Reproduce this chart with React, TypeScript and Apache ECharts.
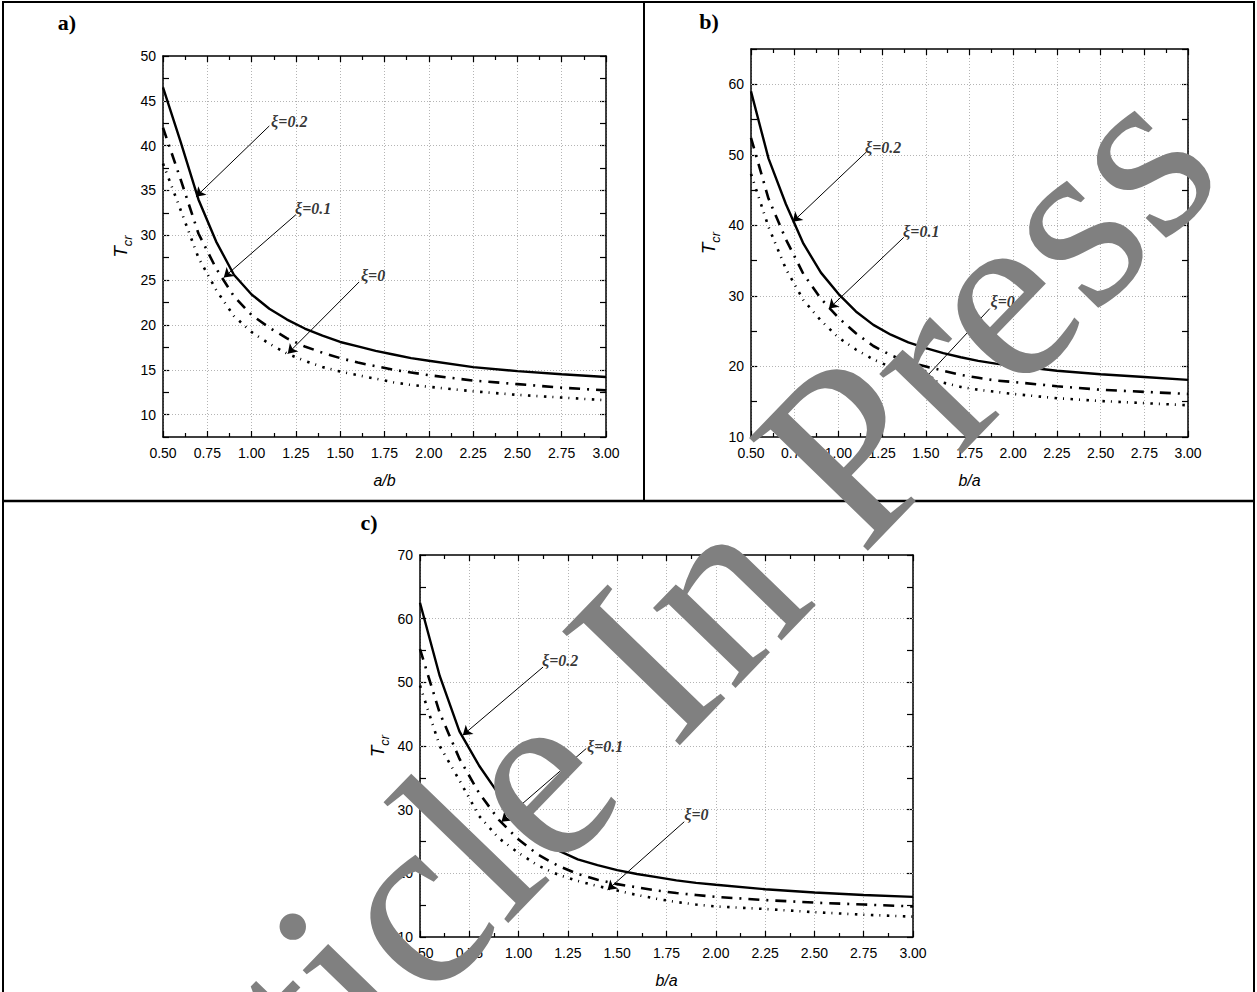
import React, { useEffect, useRef } from 'react';
import * as echarts from 'echarts';

// ---------- data ----------
const X_VALUES = [0.5, 0.6, 0.7, 0.8, 0.9, 1.0, 1.1, 1.2, 1.3, 1.4, 1.5, 1.6, 1.7, 1.8, 1.9, 2.0, 2.25, 2.5, 2.75, 3.0];

const A_XI02 = [46.5, 40.4, 34.0, 29.3, 25.6, 23.4, 21.8, 20.6, 19.6, 18.8, 18.1, 17.6, 17.1, 16.7, 16.3, 16.0, 15.3, 14.85, 14.5, 14.2];
const A_XI01 = [42.0, 36.2, 30.2, 26.3, 23.2, 21.1, 19.7, 18.5, 17.6, 16.9, 16.3, 15.8, 15.4, 15.0, 14.7, 14.4, 13.8, 13.4, 13.0, 12.7];
const A_XI00 = [38.0, 32.8, 27.5, 23.9, 21.0, 19.2, 17.9, 16.8, 16.0, 15.3, 14.8, 14.4, 14.0, 13.6, 13.3, 13.1, 12.6, 12.2, 11.9, 11.6];

const B_XI02 = [59.0, 49.5, 43.0, 37.4, 33.3, 30.3, 27.8, 25.9, 24.5, 23.4, 22.6, 21.9, 21.3, 20.8, 20.4, 20.1, 19.4, 18.9, 18.5, 18.1];
const B_XI01 = [52.4, 43.8, 38.0, 33.1, 29.6, 26.9, 24.7, 22.9, 21.6, 20.6, 20.0, 19.4, 18.8, 18.4, 18.0, 17.8, 17.2, 16.7, 16.4, 16.1];
const B_XI00 = [47.3, 39.8, 33.8, 29.4, 26.5, 24.1, 22.4, 21.0, 19.9, 19.0, 18.2, 17.7, 17.1, 16.7, 16.4, 16.1, 15.5, 15.1, 14.8, 14.5];

const C_XI02 = [62.5, 51.0, 42.3, 36.9, 32.4, 28.8, 26.0, 23.6, 22.2, 21.3, 20.5, 19.9, 19.4, 18.9, 18.5, 18.2, 17.5, 17.0, 16.6, 16.3];
const C_XI01 = [55.2, 45.2, 38.0, 32.6, 28.4, 25.3, 22.9, 21.2, 19.9, 19.0, 18.3, 17.8, 17.3, 16.9, 16.6, 16.3, 15.8, 15.4, 15.1, 14.8];
const C_XI00 = [49.5, 40.0, 34.6, 29.0, 25.5, 23.2, 21.2, 19.8, 18.8, 18.0, 17.3, 16.6, 16.0, 15.5, 15.1, 14.8, 14.4, 13.9, 13.5, 13.2];

const X_TICKS = { min: 0.5, max: 3.0, step: 0.25 };
const A_Y = { min: 7.5, max: 50, step: 2.5, major: 5 };
const B_Y = { min: 10, max: 65, step: 5, major: 10 };
const C_Y = { min: 10, max: 70, step: 5, major: 10 };
const A_Y_GRID = [10, 15, 20, 25, 30, 35, 40, 45];
const B_Y_GRID = [20, 30, 40, 50, 60];
const C_Y_GRID = [20, 30, 40, 50, 60];

const NOTE_TEXTS = ['ξ=0.2', 'ξ=0.1', 'ξ=0'];
// annotation anchors (data coords): text left-middle, arrow start, arrow tip
const A_NOTES = [[1.11, 42.7], [1.245, 33.0], [1.617, 25.5]];
const A_ARROWS = [[[1.10, 42.2], [0.686, 34.3]], [[1.25, 32.3], [0.843, 25.3]], [[1.607, 24.8], [1.204, 16.8]]];
const B_NOTES = [[1.152, 51.1], [1.37, 39.1], [1.87, 29.2]];
const B_ARROWS = [[[1.16, 50.4], [0.739, 40.5]], [[1.374, 38.3], [0.946, 28.2]], [[1.866, 28.2], [1.487, 18.1]]];
const C_NOTES = [[1.119, 53.5], [1.347, 40.0], [1.84, 29.2]];
const C_ARROWS = [[[1.124, 52.4], [0.717, 41.7]], [[1.343, 39.6], [0.913, 28.1]], [[1.84, 28.1], [1.451, 17.4]]];

// ---------- styles / layout ----------
const SANS = '"Liberation Sans", Arial, sans-serif';
const SERIF = '"Liberation Serif", "Times New Roman", serif';
const GRID_LINE = { color: '#b4b4b4', width: 1, type: [1, 2] as number[] };

const PANELS = [
  { id: 'a)', xName: 'a/b', grid: { left: 163, top: 56, width: 443, height: 381 }, y: A_Y, yGrid: A_Y_GRID,
    series: [A_XI02, A_XI01, A_XI00], notes: A_NOTES, arrows: A_ARROWS, label: [67, 22] },
  { id: 'b)', xName: 'b/a', grid: { left: 751, top: 49, width: 437, height: 388 }, y: B_Y, yGrid: B_Y_GRID,
    series: [B_XI02, B_XI01, B_XI00], notes: B_NOTES, arrows: B_ARROWS, label: [709, 21] },
  { id: 'c)', xName: 'b/a', grid: { left: 420, top: 555, width: 493, height: 382 }, y: C_Y, yGrid: C_Y_GRID,
    series: [C_XI02, C_XI01, C_XI00], notes: C_NOTES, arrows: C_ARROWS, label: [369, 522] },
];

const LINE_STYLES = [
  { color: '#000', width: 2.4, type: 'solid' as any },
  { color: '#000', width: 2.6, type: [11, 7, 2, 7] },
  { color: '#000', width: 2.6, type: [2.5, 6, 1, 6.5] },
];

function isMajor(v: number, major: number) {
  const r = v / major;
  return Math.abs(r - Math.round(r)) < 1e-6;
}

function buildOption() {
  const grid: any[] = [];
  const xAxis: any[] = [];
  const yAxis: any[] = [];
  const series: any[] = [];

  PANELS.forEach((p, i) => {
    grid.push({ ...p.grid, containLabel: false, outerBoundsMode: 'none' });
    const axisLine = { show: true, onZero: false, lineStyle: { color: '#000', width: 1.5 } };
    const tick = { show: true, inside: true, length: 6, lineStyle: { color: '#000', width: 1.2 } };
    const minor = { show: true, splitNumber: 2, length: 4, lineStyle: { color: '#000', width: 1.2 } };
    xAxis.push({
      type: 'value', gridIndex: i, position: 'bottom', min: X_TICKS.min, max: X_TICKS.max, interval: X_TICKS.step,
      axisLine, axisTick: tick, minorTick: minor,
      axisLabel: { color: '#000', fontSize: 14, fontFamily: SANS, margin: 9, formatter: (v: number) => v.toFixed(2) },
      splitLine: { show: true, lineStyle: GRID_LINE },
      name: p.xName, nameLocation: 'middle', nameGap: 35,
      nameTextStyle: { color: '#000', fontSize: 16, fontStyle: 'italic', fontFamily: SANS },
    });
    xAxis.push({
      type: 'value', gridIndex: i, position: 'top', min: X_TICKS.min, max: X_TICKS.max, interval: X_TICKS.step,
      axisLine, axisTick: tick, minorTick: minor, axisLabel: { show: false }, splitLine: { show: false },
    });
    yAxis.push({
      type: 'value', gridIndex: i, position: 'left', min: p.y.min, max: p.y.max, interval: p.y.step,
      axisLine, axisTick: tick,
      axisLabel: { color: '#000', fontSize: 14, fontFamily: SANS, margin: 7,
        formatter: (v: number) => (isMajor(v, p.y.major) ? String(v) : '') },
      splitLine: { show: false },
      name: '{t|T}{s|cr}', nameLocation: 'middle', nameGap: 29,
      nameTextStyle: {
        rich: {
          t: { fontSize: 19, fontStyle: 'italic', fontFamily: SANS, color: '#000', verticalAlign: 'bottom', padding: [0, 0, 4, 0] },
          s: { fontSize: 13, fontStyle: 'italic', fontFamily: SANS, color: '#000', verticalAlign: 'bottom' },
        },
      },
    });
    yAxis.push({
      type: 'value', gridIndex: i, position: 'right', min: p.y.min, max: p.y.max, interval: p.y.step,
      axisLine, axisTick: tick, axisLabel: { show: false }, splitLine: { show: false },
    });

    p.series.forEach((vals, k) => {
      const s: any = {
        type: 'line', xAxisIndex: 2 * i, yAxisIndex: 2 * i, name: `${p.id} ${NOTE_TEXTS[k]}`,
        data: X_VALUES.map((x, j) => [x, vals[j]]),
        showSymbol: false, symbol: 'none', smooth: false, silent: true,
        lineStyle: LINE_STYLES[k], z: 2,
      };
      if (k === 0) {
        s.markLine = {
          silent: true, z: 5, symbol: ['none', 'arrow'], symbolSize: 9,
          label: { show: false }, lineStyle: { color: '#000', width: 1, type: 'solid' },
          itemStyle: { color: '#000' },
          emphasis: { disabled: true },
          data: p.arrows.map((a) => [{ coord: a[0] }, { coord: a[1] }]),
        };
      }
      if (k === 2) {
        s.markLine = {
          silent: true, z: 1, symbol: ['none', 'none'],
          label: { show: false }, lineStyle: GRID_LINE, emphasis: { disabled: true },
          data: p.yGrid.map((v) => ({ yAxis: v })),
        };
      }
      series.push(s);
    });
    series.push({
      type: 'scatter', xAxisIndex: 2 * i, yAxisIndex: 2 * i, symbolSize: 0, silent: true, z: 6,
      data: p.notes.map((n, k) => [n[0], n[1], NOTE_TEXTS[k]]),
      label: {
        show: true, position: 'right', distance: 0, formatter: (q: any) => q.data[2],
        color: '#000', fontSize: 16, fontWeight: 'bold', fontStyle: 'italic', fontFamily: SERIF,
      },
    });
  });

  const line = (x1: number, y1: number, x2: number, y2: number, w: number) => ({
    type: 'line', z: 50, silent: true, shape: { x1, y1, x2, y2 }, style: { stroke: '#000', lineWidth: w },
  });

  const graphic: any[] = [
    line(2, 2, 1255, 2, 2),
    line(3, 2, 3, 992, 2),
    line(1254, 2, 1254, 992, 2),
    line(644, 2, 644, 501, 2),
    line(2, 501, 1255, 501, 2.5),
    ...PANELS.map((p) => ({
      type: 'text', z: 50, silent: true, x: p.label[0], y: p.label[1],
      style: { text: p.id, fontSize: 22, fontWeight: 'bold', fontFamily: SERIF, fill: '#000',
        align: 'center', verticalAlign: 'middle', textAlign: 'center', textVerticalAlign: 'middle' },
    })),
    {
      type: 'text', z: 100, silent: true, x: 87, y: 1237, rotation: (46 * Math.PI) / 180,
      style: { text: 'Article In Press', fontSize: 250, fontFamily: SERIF, fill: '#808080',
        align: 'left', verticalAlign: 'middle', textAlign: 'left', textVerticalAlign: 'middle' },
    },
  ];

  return { animation: false, backgroundColor: '#fff', grid, xAxis, yAxis, series, graphic };
}

export default function App() {
  const ref = useRef<HTMLDivElement>(null);
  useEffect(() => {
    if (!ref.current) return;
    const chart = echarts.init(ref.current, undefined, { renderer: 'svg' });
    chart.setOption(buildOption() as any);
    return () => chart.dispose();
  }, []);
  return (
    <div
      ref={ref}
      style={{ position: 'absolute', left: 0, top: 0, width: 1257, height: 992, background: '#fff' }}
    />
  );
}
